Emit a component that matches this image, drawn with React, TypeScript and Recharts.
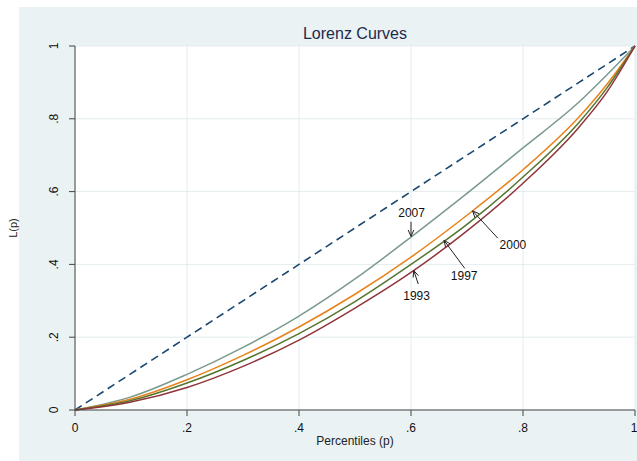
import React from 'react';
import {
  LineChart,
  Line,
  XAxis,
  YAxis,
  CartesianGrid,
  ReferenceLine,
  ReferenceDot,
} from 'recharts';

// ---------- data ----------
const percentiles = [0, 0.1, 0.2, 0.3, 0.4, 0.5, 0.6, 0.7, 0.8, 0.9, 0.95, 1];
const equality = [0, 0.1, 0.2, 0.3, 0.4, 0.5, 0.6, 0.7, 0.8, 0.9, 0.95, 1];
const lorenz1993 = [0, 0.022, 0.062, 0.12, 0.192, 0.28, 0.378, 0.492, 0.623, 0.777, 0.874, 1];
const lorenz1997 = [0, 0.026, 0.074, 0.136, 0.21, 0.298, 0.4, 0.51, 0.64, 0.79, 0.885, 1];
const lorenz2000 = [0, 0.03, 0.083, 0.15, 0.228, 0.318, 0.42, 0.535, 0.66, 0.805, 0.895, 1];
const lorenz2007 = [0, 0.036, 0.098, 0.172, 0.258, 0.36, 0.475, 0.595, 0.72, 0.846, 0.921, 1];

const tickValues = [0, 0.2, 0.4, 0.6, 0.8, 1];
const tickLabels = ['0', '.2', '.4', '.6', '.8', '1'];

// annotation labels (text anchor, arrow tail, arrow tip) in data units
const annotations = [
  { label: '2007', text: [0.601, 0.542], tail: [0.6, 0.517], tip: [0.6, 0.477] },
  { label: '2000', text: [0.782, 0.453], tail: [0.755, 0.472], tip: [0.71, 0.547] },
  { label: '1997', text: [0.695, 0.368], tail: [0.696, 0.389], tip: [0.659, 0.466] },
  { label: '1993', text: [0.61, 0.314], tail: [0.613, 0.346], tip: [0.605, 0.383] },
];

const rows = percentiles.map((p, i) => ({
  p,
  eq: equality[i],
  y1993: lorenz1993[i],
  y1997: lorenz1997[i],
  y2000: lorenz2000[i],
  y2007: lorenz2007[i],
}));

const FONT = '"Liberation Sans", Arial, Helvetica, sans-serif';
const fmt = (v: number) => {
  const i = tickValues.findIndex((t) => Math.abs(t - v) < 1e-9);
  return i >= 0 ? tickLabels[i] : String(v);
};

const YTick = (props: any) => {
  const { x, y, payload } = props;
  const bx = x - 9;
  return (
    <text
      x={bx}
      y={y}
      transform={`rotate(-90, ${bx}, ${y})`}
      textAnchor="middle"
      fontSize={12}
      fontFamily={FONT}
      fill="#111"
    >
      {fmt(payload.value)}
    </text>
  );
};

const Arrow = (props: any) => {
  const { x1, y1, x2, y2 } = props;
  const ang = Math.atan2(y2 - y1, x2 - x1);
  const h = 7;
  const a = 0.42;
  const ax = x2 - h * Math.cos(ang - a);
  const ay = y2 - h * Math.sin(ang - a);
  const bx = x2 - h * Math.cos(ang + a);
  const by = y2 - h * Math.sin(ang + a);
  return (
    <g>
      <line x1={x1} y1={y1} x2={x2} y2={y2} stroke="#222" strokeWidth={1} />
      <polyline
        points={`${ax},${ay} ${x2},${y2} ${bx},${by}`}
        fill="none"
        stroke="#222"
        strokeWidth={1}
      />
    </g>
  );
};

const YLabel = (props: any) => {
  const vb = props.viewBox || { x: 20, y: 46, width: 55, height: 364 };
  const bx = vb.x - 3;
  const cy = vb.y + vb.height / 2;
  return (
    <text
      x={bx}
      y={cy}
      transform={`rotate(-90, ${bx}, ${cy})`}
      textAnchor="middle"
      fontSize={11}
      fontFamily={FONT}
      fill="#222"
    >
      L(p)
    </text>
  );
};

const topTextStyle: React.CSSProperties = {
  position: 'absolute',
  top: -23,
  lineHeight: '20px',
  fontSize: 20,
  fontWeight: 'bold',
  fontFamily: '"Liberation Serif", "Times New Roman", serif',
  whiteSpace: 'nowrap',
  color: '#000',
};

export default function App() {
  return (
    <div
      style={{
        position: 'absolute',
        left: 0,
        top: 0,
        width: 637,
        height: 461,
        background: '#fff',
        overflow: 'hidden',
      }}
    >
      <div
        style={{
          position: 'absolute',
          left: 19,
          top: 7,
          width: 618,
          height: 454,
          background: '#eaf2f3',
        }}
      />
      <span style={{ ...topTextStyle, left: 20 }}>Figure 1</span>
      <span style={{ ...topTextStyle, left: 503 }}>(1993–2007)</span>
      <div
        style={{
          position: 'absolute',
          left: 75,
          width: 560,
          top: 24,
          lineHeight: '20px',
          textAlign: 'center',
          fontSize: 16,
          fontFamily: FONT,
          color: '#1c2a4c',
        }}
      >
        Lorenz Curves
      </div>
      <div style={{ position: 'absolute', left: 0, top: 0 }}>
        <LineChart
          width={637}
          height={461}
          data={rows}
          margin={{ top: 46, right: 2, bottom: 11, left: 20 }}
        >
          <CartesianGrid fill="#ffffff" stroke="#e3ecee" strokeWidth={1} />
          <XAxis
            dataKey="p"
            type="number"
            domain={[0, 1]}
            ticks={tickValues}
            tickFormatter={fmt}
            tickSize={6}
            tickMargin={7}
            height={40}
            axisLine={{ stroke: '#444' }}
            tickLine={{ stroke: '#444' }}
            tick={{ fontSize: 12, fill: '#111', fontFamily: FONT }}
            label={{
              value: 'Percentiles (p)',
              position: 'insideBottom',
              offset: 5,
              fontSize: 12,
              fill: '#222',
              fontFamily: FONT,
            }}
          />
          <YAxis
            type="number"
            domain={[0, 1]}
            ticks={tickValues}
            width={55}
            tickSize={6}
            axisLine={{ stroke: '#444' }}
            tickLine={{ stroke: '#444' }}
            tick={<YTick />}
            label={<YLabel />}
          />
          <Line
            dataKey="eq"
            type="linear"
            stroke="#1a476f"
            strokeWidth={1.6}
            strokeDasharray="8 5"
            dot={false}
            isAnimationActive={false}
          />
          <Line dataKey="y2007" type="monotone" stroke="#7a9a8e" strokeWidth={1.5} dot={false} isAnimationActive={false} />
          <Line dataKey="y2000" type="monotone" stroke="#e8821a" strokeWidth={1.5} dot={false} isAnimationActive={false} />
          <Line dataKey="y1997" type="monotone" stroke="#55752f" strokeWidth={1.5} dot={false} isAnimationActive={false} />
          <Line dataKey="y1993" type="monotone" stroke="#90353b" strokeWidth={1.5} dot={false} isAnimationActive={false} />
          {annotations.map((a) => (
            <ReferenceLine
              key={'arr' + a.label}
              segment={[
                { x: a.tail[0], y: a.tail[1] },
                { x: a.tip[0], y: a.tip[1] },
              ]}
              shape={<Arrow />}
              ifOverflow="visible"
            />
          ))}
          {annotations.map((a) => (
            <ReferenceDot
              key={'txt' + a.label}
              x={a.text[0]}
              y={a.text[1]}
              r={0}
              ifOverflow="visible"
              shape={(p: any) => (
                <text
                  x={p.cx}
                  y={p.cy}
                  textAnchor="middle"
                  dominantBaseline="central"
                  fontSize={12}
                  fontFamily={FONT}
                  fill="#111"
                >
                  {a.label}
                </text>
              )}
            />
          ))}
        </LineChart>
      </div>
    </div>
  );
}
